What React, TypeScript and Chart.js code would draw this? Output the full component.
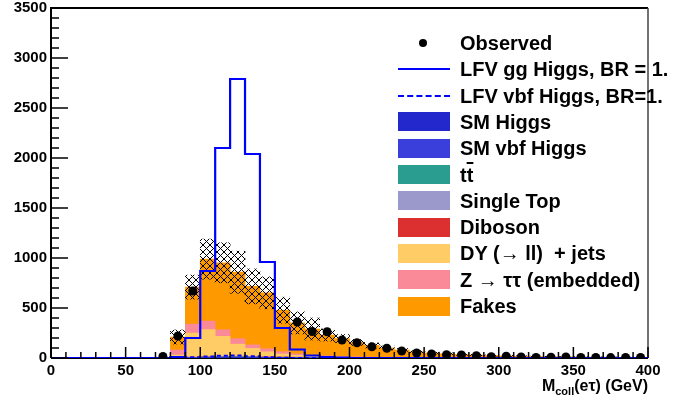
import React, { useEffect, useRef } from "react";
import { Chart, registerables } from "chart.js";

Chart.register(...registerables);

// ---------------- data (bins of 10 GeV from 0 to 400) ----------------
const BIN_WIDTH = 10;
const N_BINS = 40;
const BIN_LOW = Array.from({ length: N_BINS }, (_, i) => i * BIN_WIDTH);
const BIN_CENTER = BIN_LOW.map((b) => b + BIN_WIDTH / 2);
const BIN_EDGES = [...BIN_LOW, N_BINS * BIN_WIDTH];

const X_TICKS = [0, 50, 100, 150, 200, 250, 300, 350, 400];
const Y_TICKS = [0, 500, 1000, 1500, 2000, 2500, 3000, 3500];

// observed data (signal region 100-160 GeV blinded)
const OBSERVED = [
  null, null, null, null, null, null, null, 15, 220, 670,
  null, null, null, null, null, null, 360, 265, 262, 180,
  152, 113, 97, 70, 50, 40, 32, 30, 22, 12,
  18, 10, 5, 8, 10, 6, 6, 4, 6, 6,
];

const LFV_GG = [
  0, 0, 0, 0, 0, 0, 0, 0, 10, 200,
  870, 2100, 2790, 2040, 960, 300, 85, 25, 8, 3,
  0, 0, 0, 0, 0, 0, 0, 0, 0, 0,
  0, 0, 0, 0, 0, 0, 0, 0, 0, 0,
];

const LFV_VBF = [
  0, 0, 0, 0, 0, 0, 0, 0, 2, 8,
  15, 22, 25, 18, 8, 3, 1, 0, 0, 0,
  0, 0, 0, 0, 0, 0, 0, 0, 0, 0,
  0, 0, 0, 0, 0, 0, 0, 0, 0, 0,
];

const SM_HIGGS = [
  0, 0, 0, 0, 0, 0, 0, 0, 0, 1,
  3, 5, 6, 5, 3, 2, 1, 0, 0, 0,
  0, 0, 0, 0, 0, 0, 0, 0, 0, 0,
  0, 0, 0, 0, 0, 0, 0, 0, 0, 0,
];

const SM_VBF_HIGGS = [
  0, 0, 0, 0, 0, 0, 0, 0, 0, 0,
  1, 2, 2, 2, 1, 1, 0, 0, 0, 0,
  0, 0, 0, 0, 0, 0, 0, 0, 0, 0,
  0, 0, 0, 0, 0, 0, 0, 0, 0, 0,
];

const TTBAR = [
  0, 0, 0, 0, 0, 0, 0, 0, 2, 3,
  4, 4, 4, 4, 3, 3, 3, 2, 2, 2,
  2, 1, 1, 1, 1, 1, 1, 1, 0, 0,
  0, 0, 0, 0, 0, 0, 0, 0, 0, 0,
];

const SINGLE_TOP = [
  0, 0, 0, 0, 0, 0, 0, 0, 1, 1,
  1, 1, 1, 1, 1, 1, 1, 1, 1, 0,
  0, 0, 0, 0, 0, 0, 0, 0, 0, 0,
  0, 0, 0, 0, 0, 0, 0, 0, 0, 0,
];

const DIBOSON = [
  0, 0, 0, 0, 0, 0, 0, 0, 2, 4,
  5, 5, 5, 4, 4, 3, 3, 2, 2, 2,
  1, 1, 1, 1, 1, 0, 0, 0, 0, 0,
  0, 0, 0, 0, 0, 0, 0, 0, 0, 0,
];

const DY_JETS = [
  0, 0, 0, 0, 0, 0, 0, 0, 25, 240,
  270, 200, 120, 80, 50, 30, 18, 12, 8, 6,
  4, 3, 2, 2, 1, 1, 1, 1, 1, 1,
  1, 0, 0, 0, 0, 0, 0, 0, 0, 0,
];

const ZTT = [
  0, 0, 0, 0, 0, 0, 0, 0, 50, 90,
  85, 65, 55, 35, 30, 23, 15, 10, 7, 5,
  4, 3, 2, 2, 1, 1, 1, 1, 1, 1,
  1, 0, 0, 0, 0, 0, 0, 0, 0, 0,
];

const FAKES = [
  0, 0, 0, 0, 0, 0, 0, 0, 130, 370,
  620, 670, 665, 585, 560, 415, 310, 263, 210, 180,
  144, 117, 94, 74, 58, 47, 39, 32, 28, 23,
  19, 18, 15, 13, 11, 10, 9, 8, 7, 6,
];

// total background uncertainty (absolute)
const BKG_UNC = [
  0, 0, 0, 0, 0, 0, 0, 0, 70, 120,
  200, 200, 210, 175, 160, 130, 110, 110, 60, 40,
  30, 25, 20, 15, 12, 10, 9, 8, 7, 6,
  5, 4, 4, 3, 3, 3, 2, 2, 2, 2,
];

const STACK = [
  { label: "SM Higgs", values: SM_HIGGS, color: "#2328cc" },
  { label: "SM vbf Higgs", values: SM_VBF_HIGGS, color: "#3a3fdc" },
  { label: "tt", values: TTBAR, color: "#2a9d90" },
  { label: "Single Top", values: SINGLE_TOP, color: "#9b99cc" },
  { label: "Diboson", values: DIBOSON, color: "#dc3030" },
  { label: "DY (→ ll)  + jets", values: DY_JETS, color: "#ffcc66" },
  { label: "Z → ττ (embedded)", values: ZTT, color: "#fa8a98" },
  { label: "Fakes", values: FAKES, color: "#ff9900" },
];

const LEGEND_ROWS = [
  { kind: "dot", label: "Observed" },
  { kind: "line", label: "LFV gg Higgs, BR = 1." },
  { kind: "dash", label: "LFV vbf Higgs, BR=1." },
  ...STACK.map((s) => ({ kind: "box", label: s.label, color: s.color })),
];

const FONT = '"Liberation Sans", Arial, Helvetica, sans-serif';
const SIGNAL_BLUE = "#0000ff";

// ---------------- plugin: ROOT-like frame and inward ticks ----------------
const rootFrame = {
  id: "rootFrame",
  beforeDatasetsDraw(chart: any) {
    const { ctx, chartArea: a } = chart;
    ctx.save();
    ctx.strokeStyle = "#000";
    ctx.lineWidth = 2;
    ctx.beginPath();
    ctx.moveTo(a.left, a.bottom);
    ctx.lineTo(a.left, a.top);
    ctx.lineTo(a.right, a.top);
    ctx.moveTo(a.left, a.bottom);
    ctx.lineTo(a.right, a.bottom);
    ctx.stroke();
    ctx.strokeStyle = "#444";
    ctx.lineWidth = 1.5;
    ctx.beginPath();
    ctx.moveTo(a.right, a.top);
    ctx.lineTo(a.right, a.bottom);
    ctx.stroke();
    ctx.restore();
  },
  afterDatasetsDraw(chart: any) {
    const { ctx, chartArea: a, scales } = chart;
    const x = scales.x;
    const y = scales.y;
    ctx.save();
    ctx.strokeStyle = "#000";
    ctx.lineWidth = 1.5;
    ctx.beginPath();
    const xMajor = X_TICKS[1] - X_TICKS[0];
    const xMinor = xMajor / 5;
    for (let v = X_TICKS[0]; v <= X_TICKS[X_TICKS.length - 1] + 1e-6; v += xMinor) {
      const px = x.getPixelForValue(v);
      const major = Math.abs(v / xMajor - Math.round(v / xMajor)) < 1e-6;
      const len = major ? 11 : 6;
      ctx.moveTo(px, a.bottom);
      ctx.lineTo(px, a.bottom - len);
    }
    const yMajor = Y_TICKS[1] - Y_TICKS[0];
    const yMinor = yMajor / 5;
    for (let v = Y_TICKS[0]; v <= Y_TICKS[Y_TICKS.length - 1] + 1e-6; v += yMinor) {
      const py = y.getPixelForValue(v);
      const major = Math.abs(v / yMajor - Math.round(v / yMajor)) < 1e-6;
      const len = major ? 17 : 8;
      ctx.moveTo(a.left, py);
      ctx.lineTo(a.left + len, py);
    }
    ctx.stroke();
    ctx.restore();
  },
};

// crisp pixel cross-hatch (like ROOT fill style 3013)
function makeHatch(): CanvasPattern | string {
  const s = 7;
  const c = document.createElement("canvas");
  c.width = s;
  c.height = s;
  const g = c.getContext("2d");
  if (!g) return "rgba(0,0,0,0.3)";
  g.fillStyle = "#000";
  for (let i = 0; i < s; i++) {
    g.fillRect(i, i, 1, 1);
    g.fillRect(s - 1 - i, i, 1, 1);
  }
  const p = g.createPattern(c, "repeat");
  return p || "rgba(0,0,0,0.3)";
}

export default function App() {
  const canvasRef = useRef<HTMLCanvasElement | null>(null);

  useEffect(() => {
    document.body.style.margin = "0";
    const canvas = canvasRef.current;
    if (!canvas) return;

    const totals = BIN_CENTER.map((_, i) =>
      STACK.reduce((sum, s) => sum + s.values[i], 0)
    );

    const barCommon = {
      type: "bar" as const,
      grouped: false,
      barPercentage: 1,
      categoryPercentage: 1,
      borderWidth: 0,
    };

    const stackSets = STACK.map((s) => ({
      ...barCommon,
      label: s.label,
      data: BIN_CENTER.map((c, i) => ({ x: c, y: s.values[i] })),
      backgroundColor: s.color,
      stack: "bkg",
      order: 10,
    }));

    const hatchSet = {
      ...barCommon,
      label: "uncertainty",
      data: BIN_CENTER.map((c, i) => ({
        x: c,
        y: totals[i] > 0 ? [totals[i] - BKG_UNC[i], totals[i] + BKG_UNC[i]] : null,
      })),
      backgroundColor: makeHatch(),
      stack: "unc",
      order: 5,
    };

    const tickFont = { family: FONT, size: 15, weight: "bold" as const };

    const chart = new Chart(canvas, {
      data: {
        datasets: [
          {
            type: "line",
            label: "Observed",
            data: BIN_CENTER.map((c, i) => ({ x: c, y: OBSERVED[i] })),
            showLine: false,
            pointRadius: 4.5,
            pointBackgroundColor: "#000",
            pointBorderColor: "#000",
            pointBorderWidth: 0,
            stack: "obs",
            order: 0,
          } as any,
          {
            type: "line",
            label: "LFV gg Higgs, BR = 1.",
            data: BIN_EDGES.map((e, i) => ({ x: e, y: i < N_BINS ? LFV_GG[i] : 0 })),
            stepped: "before",
            borderColor: SIGNAL_BLUE,
            borderWidth: 2.2,
            pointRadius: 0,
            fill: false,
            stack: "gg",
            order: 1,
          } as any,
          {
            type: "line",
            label: "LFV vbf Higgs, BR=1.",
            data: BIN_EDGES.map((e, i) => ({ x: e, y: i < N_BINS ? LFV_VBF[i] : 0 })),
            stepped: "before",
            borderColor: SIGNAL_BLUE,
            borderWidth: 2,
            borderDash: [4, 3],
            pointRadius: 0,
            fill: false,
            stack: "vbf",
            order: 2,
          } as any,
          hatchSet as any,
          ...(stackSets as any[]),
        ],
      },
      options: {
        responsive: false,
        animation: false,
        events: [],
        layout: { padding: { left: 0, top: 8, right: 51, bottom: 0 } },
        plugins: {
          legend: { display: false },
          tooltip: { enabled: false },
        },
        scales: {
          x: {
            type: "linear",
            offset: false,
            min: X_TICKS[0],
            max: X_TICKS[X_TICKS.length - 1],
            afterBuildTicks: (scale: any) => {
              scale.ticks = X_TICKS.map((v) => ({ value: v }));
            },
            ticks: {
              autoSkip: false,
              maxRotation: 0,
              padding: 4,
              color: "#000",
              font: tickFont,
              callback: (v: any) => String(v),
            },
            grid: { display: false, drawTicks: false, offset: false },
            border: { display: false },
            afterFit: (scale: any) => {
              scale.height = 43;
              scale.paddingLeft = 0;
              scale.paddingRight = 0;
            },
          },
          y: {
            type: "linear",
            stacked: true,
            min: Y_TICKS[0],
            max: Y_TICKS[Y_TICKS.length - 1],
            afterBuildTicks: (scale: any) => {
              scale.ticks = Y_TICKS.map((v) => ({ value: v }));
            },
            ticks: {
              padding: 4,
              color: "#000",
              font: tickFont,
              callback: (v: any) => String(v),
            },
            grid: { display: false, drawTicks: false },
            border: { display: false },
            afterFit: (scale: any) => {
              scale.width = 51;
              scale.paddingTop = 0;
              scale.paddingBottom = 0;
            },
          },
        },
      },
      plugins: [rootFrame],
    } as any);

    return () => chart.destroy();
  }, []);

  const rowTop = 43;
  const rowStep = 26.3;

  return (
    <div
      style={{
        position: "relative",
        width: 699,
        height: 401,
        background: "#fff",
        fontFamily: FONT,
        overflow: "hidden",
      }}
    >
      <canvas
        ref={canvasRef}
        width={699}
        height={401}
        style={{ position: "absolute", left: 0, top: 0, width: 699, height: 401 }}
      />
      {LEGEND_ROWS.map((r: any, i) => {
        const cy = rowTop + i * rowStep;
        let marker: React.ReactNode = null;
        if (r.kind === "dot") {
          marker = (
            <div
              style={{
                position: "absolute",
                left: 419,
                top: cy - 4,
                width: 8,
                height: 8,
                borderRadius: "50%",
                background: "#000",
              }}
            />
          );
        } else if (r.kind === "line") {
          marker = (
            <div
              style={{
                position: "absolute",
                left: 398,
                top: cy - 1,
                width: 52,
                height: 0,
                borderTop: `2px solid ${SIGNAL_BLUE}`,
              }}
            />
          );
        } else if (r.kind === "dash") {
          marker = (
            <div
              style={{
                position: "absolute",
                left: 398,
                top: cy - 1,
                width: 52,
                height: 0,
                borderTop: `2px dashed ${SIGNAL_BLUE}`,
              }}
            />
          );
        } else {
          marker = (
            <div
              style={{
                position: "absolute",
                left: 398,
                top: cy - 9.5,
                width: 52,
                height: 19,
                background: r.color,
              }}
            />
          );
        }
        const text =
          r.label === "tt" ? (
            <span>
              t<span style={{ textDecoration: "overline" }}>t</span>
            </span>
          ) : (
            r.label
          );
        return (
          <React.Fragment key={i}>
            {marker}
            <div
              style={{
                position: "absolute",
                left: 460,
                top: cy - 13,
                height: 26,
                lineHeight: "26px",
                fontSize: 20,
                fontWeight: "bold",
                color: "#000",
                whiteSpace: "pre",
              }}
            >
              {text}
            </div>
          </React.Fragment>
        );
      })}
      <div
        style={{
          position: "absolute",
          right: 51,
          top: 376,
          fontSize: 16,
          fontWeight: "bold",
          color: "#000",
          whiteSpace: "nowrap",
          lineHeight: "20px",
        }}
      >
        M<sub style={{ fontSize: 11, verticalAlign: "-4px", lineHeight: 0 }}>coll</sub>(eτ) (GeV)
      </div>
    </div>
  );
}
